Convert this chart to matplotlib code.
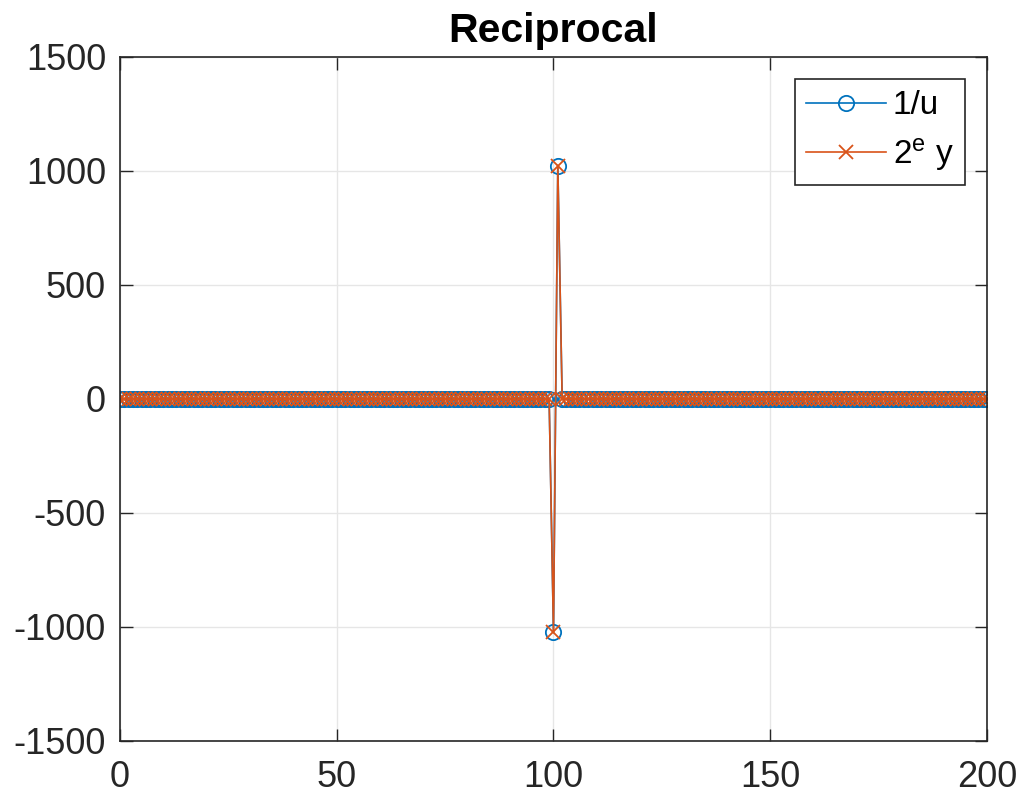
import numpy as np
import matplotlib.pyplot as plt

plt.rcParams['font.family'] = ['Liberation Sans', 'DejaVu Sans']
plt.rcParams['axes.unicode_minus'] = False
plt.rcParams['mathtext.fontset'] = 'custom'
plt.rcParams['mathtext.rm'] = 'Liberation Sans'
plt.rcParams['mathtext.it'] = 'Liberation Sans'

# magnitude of the reciprocal away from the spike (read as ~0 at this scale)
mag = [1.00, 0.50, 0.33, 0.25, 0.20, 0.17, 0.14, 0.13, 0.11, 0.10,
       0.09, 0.08, 0.08, 0.07, 0.07, 0.06, 0.06, 0.06, 0.05, 0.05,
       0.05, 0.05, 0.04, 0.04, 0.04, 0.04, 0.04, 0.04, 0.03, 0.03,
       0.03, 0.03, 0.03, 0.03, 0.03, 0.03, 0.03, 0.03, 0.03, 0.03,
       0.02, 0.02, 0.02, 0.02, 0.02, 0.02, 0.02, 0.02, 0.02, 0.02,
       0.02, 0.02, 0.02, 0.02, 0.02, 0.02, 0.02, 0.02, 0.02, 0.02,
       0.02, 0.02, 0.02, 0.02, 0.02, 0.02, 0.01, 0.01, 0.01, 0.01,
       0.01, 0.01, 0.01, 0.01, 0.01, 0.01, 0.01, 0.01, 0.01, 0.01,
       0.01, 0.01, 0.01, 0.01, 0.01, 0.01, 0.01, 0.01, 0.01, 0.01,
       0.01, 0.01, 0.01, 0.01, 0.01, 0.01, 0.01, 0.01, 0.01, 0.01]
spike = [-1024, 1024]   # values at x = 100, 101

left = [-m for m in mag[::-1]]      # x = 0 .. 99
right = mag[:99]                    # x = 102 .. 200
recip = np.array(left + spike + right)
approx = recip.copy()               # 2^e y lies on top of 1/u
x = np.arange(len(recip))

blue = '#0072BD'
orange = '#D95319'

fig = plt.figure(figsize=(10.21, 7.97), dpi=100)
ax = fig.add_axes([0.1175, 0.0703, 0.8492, 0.8582])

ax.plot(x, recip, '-o', color=blue, mfc='none', ms=11, mew=1.3, lw=1.2, label='1/u')
ax.plot(x, approx, '-x', color=orange, ms=10, mew=1.3, lw=1.2, label='2$^{\\mathrm{e}}$ y')

ax.set_xlim(0, 200)
ax.set_ylim(-1500, 1500)
ax.set_xticks([0, 50, 100, 150, 200])
ax.set_yticks(np.arange(-1500, 1501, 500))
ax.grid(True, color='#e6e6e6', lw=1.0)
ax.set_axisbelow(True)
ax.tick_params(direction='in', length=9, width=1.0, labelsize=26, colors='#262626',
               top=True, right=True)
ax.tick_params(axis='y', pad=10)
ax.tick_params(axis='x', pad=14)
for s in ax.spines.values():
    s.set_color('#262626')
    s.set_linewidth(1.2)
ax.set_title('Reciprocal', fontsize=29.5, fontweight='bold', pad=11)

leg = ax.legend(loc='upper right', fontsize=24, fancybox=False, framealpha=1,
                edgecolor='#262626', borderaxespad=0.65, handlelength=2.4,
                handletextpad=0.2, borderpad=0.35, labelspacing=0.45)
leg.get_frame().set_linewidth(1.2)

fig.savefig('out.png', dpi=100)
